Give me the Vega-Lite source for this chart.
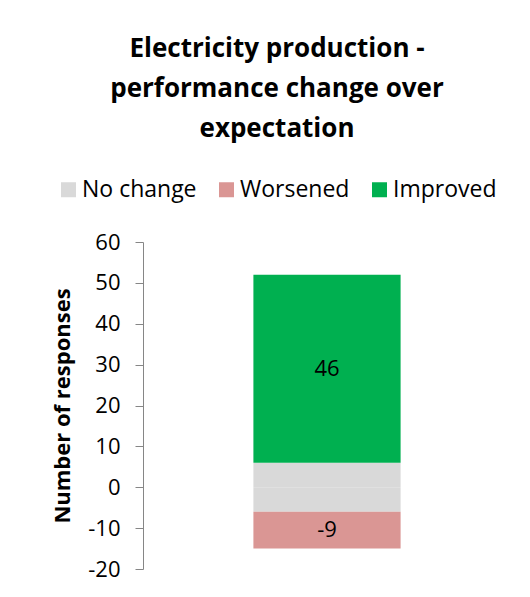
{
  "$schema": "https://vega.github.io/schema/vega-lite/v6.json",
  "width": 368,
  "height": 327,
  "autosize": {"type": "none"},
  "padding": {"left": 143, "top": 242, "right": 19, "bottom": 28},
  "background": "white",
  "config": {
    "view": {"stroke": null},
    "font": "Open Sans",
    "locale": {"number": {"decimal": ".", "thousands": ",", "grouping": [3], "currency": ["$", ""], "minus": "-"}}
  },
  "title": {
    "text": ["Electricity production -", "performance change over", "expectation"],
    "fontSize": 26,
    "fontWeight": "bold",
    "font": "Open Sans",
    "color": "#000000",
    "lineHeight": 40,
    "anchor": "middle",
    "frame": "group",
    "dx": -50,
    "offset": 36
  },
  "data": {
    "values": [
      {"cat": "Electricity production", "series": "No change", "value": 6, "ord": 1},
      {"cat": "Electricity production", "series": "No change", "value": -6, "ord": 1},
      {"cat": "Electricity production", "series": "Worsened", "value": -9, "ord": 2},
      {"cat": "Electricity production", "series": "Improved", "value": 46, "ord": 3}
    ]
  },
  "transform": [
    {"stack": "value", "groupby": ["cat"], "sort": [{"field": "ord", "order": "ascending"}], "as": ["v0", "v1"]}
  ],
  "encoding": {
    "x": {"field": "cat", "type": "nominal", "axis": null, "scale": {"paddingInner": 0.6, "paddingOuter": 0.3}}
  },
  "layer": [
    {
      "mark": {"type": "bar"},
      "encoding": {
        "y": {
          "field": "v0", "type": "quantitative",
          "scale": {"domain": [-20, 60], "nice": false, "zero": false},
          "axis": {
            "values": [-20, -10, 0, 10, 20, 30, 40, 50, 60],
            "grid": false,
            "title": "Number of responses",
            "titleFontSize": 22,
            "titleFontWeight": "bold",
            "titleColor": "#000000",
            "titleBaseline": "middle",
            "titleX": -81,
            "titleY": 163.5,
            "labelFontSize": 22,
            "labelColor": "#000000",
            "labelPadding": 15,
            "tickSize": 8,
            "tickColor": "#868686",
            "domainColor": "#868686",
            "labelFont": "Open Sans",
            "titleFont": "Open Sans"
          }
        },
        "y2": {"field": "v1"},
        "color": {
          "field": "series", "type": "nominal",
          "scale": {"domain": ["No change", "Worsened", "Improved"], "range": ["#D9D9D9", "#DA9694", "#00B050"]},
          "legend": {
            "orient": "none",
            "direction": "horizontal",
            "legendX": -86,
            "legendY": -64,
            "title": null,
            "symbolType": "square",
            "symbolSize": 225,
            "symbolStrokeWidth": 0,
            "labelFontSize": 23,
            "labelColor": "#000000",
            "labelFont": "Open Sans",
            "columnPadding": 18,
            "symbolOffset": 0,
            "labelOffset": 2
          }
        }
      }
    },
    {
      "transform": [
        {"filter": "datum.series !== 'No change'"},
        {"fold": ["v0", "v1"], "as": ["edge", "pos"]}
      ],
      "mark": {"type": "text", "fontSize": 22, "color": "#000000", "font": "Open Sans"},
      "encoding": {
        "y": {"field": "pos", "type": "quantitative", "aggregate": "mean"},
        "detail": {"field": "series", "type": "nominal"},
        "text": {"field": "value", "type": "quantitative", "aggregate": "mean"}
      }
    }
  ]
}
